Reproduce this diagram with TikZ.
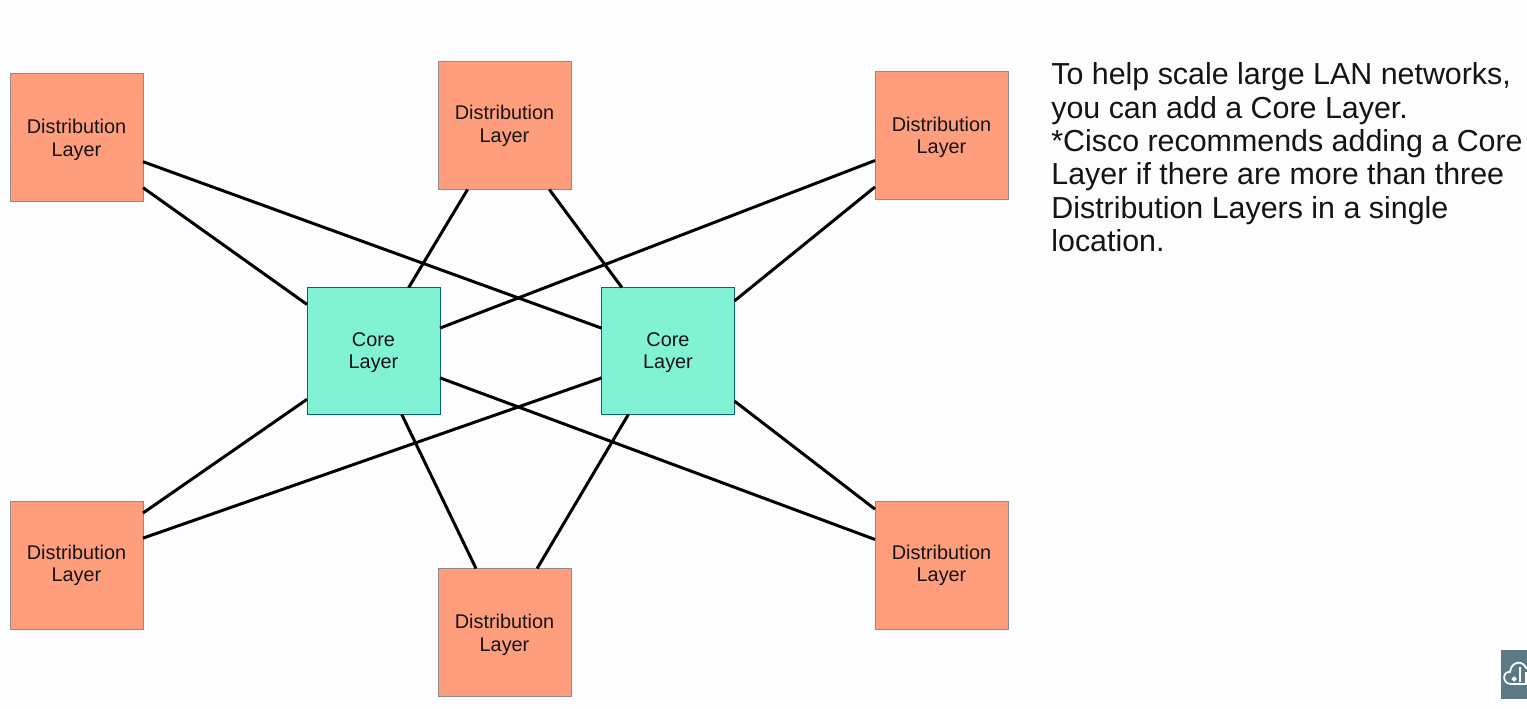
\documentclass[tikz,border=0pt]{standalone}
\usepackage{fontspec}
\setmainfont{Liberation Sans}
\definecolor{distfill}{HTML}{FF9E7C}
\definecolor{corefill}{HTML}{82F2D5}
\definecolor{pagefill}{HTML}{FDFCFE}
\definecolor{iconfill}{HTML}{5B7A85}
\tikzset{
	distbox/.style={draw=black!45, line width=0.5pt, fill=distfill, text=black!92, minimum width=2.66cm, minimum height=2.56cm, outer sep=0pt, align=center, text height=23.5pt, font=\fontsize{11.3}{12.75}\selectfont},
	distboxhigh/.style={distbox, text height=21.2pt},
	corebox/.style={draw=teal!80!black, line width=0.5pt, fill=corefill, text=black!92, minimum width=2.66cm, minimum height=2.54cm, outer sep=0pt, align=center, text height=22.4pt, font=\fontsize{11.3}{12.75}\selectfont},
	link/.style={line width=1.7pt, black}
}

\begin{document}
\begin{tikzpicture}[x=0.02cm, y=-0.02cm]
			%%%%% START %%%%%
			
			\useasboundingbox (0, 0) rectangle (1527, 709);
			\fill[pagefill] (0, 0) rectangle (1527, 709);
			
			\node[distbox] (distA) at (76.5, 137.5) {Distribution\\Layer};
			\node[distboxhigh] (distB) at (504.5, 125.5) {Distribution\\Layer};
			\node[distbox] (distC) at (941.5, 135) {Distribution\\Layer};
			\node[distboxhigh] (distD) at (76.5, 565) {Distribution\\Layer};
			\node[distbox] (distE) at (504.5, 632.5) {Distribution\\Layer};
			\node[distboxhigh] (distF) at (941.5, 565) {Distribution\\Layer};
			
			\node[corebox] (coreA) at (373.5, 351) {Core\\Layer};
			\node[corebox] (coreB) at (668, 351) {Core\\Layer};
			
			\draw[link] (distA.-20.2) -- (coreB.161.1);
			\draw[link] (distA.-37.2) -- (coreA.145.9);
			
			\draw[link] (distB.-120.8) -- (coreA.61);
			\draw[link] (distB.-55.4) -- (coreB.126.3);
			
			\draw[link] (distC.-159.4) -- (coreA.19.1);
			\draw[link] (distC.-142) -- (coreB.37.3);
			
			\draw[link] (distD.38) -- (coreA.-144.2);
			\draw[link] (distD.22.1) -- (coreB.-158.8);
			
			\draw[link] (distE.114.9) -- (coreA.-66.7);
			\draw[link] (distE.63.6) -- (coreB.-122);
			
			\draw[link] (distF.159.4) -- (coreA.-22.1);
			\draw[link] (distF.140.9) -- (coreB.-37.3);
			
			\node[anchor=north west, inner sep=0pt, align=left, text=black!92, font=\fontsize{17.3}{18.97}\selectfont] (note) at (1051, 62.6) {To help scale large LAN networks,\\you can add a Core Layer.\\*Cisco recommends adding a Core\\Layer if there are more than three\\Distribution Layers in a single\\location.};
			
			% icon in the corner
			\fill[iconfill] (1501, 650) rectangle (1527, 699);
			\begin{scope}
				\clip (1501, 650) rectangle (1527, 699);
				\draw[white, line width=1pt, line join=round] (1511, 684) .. controls (1502, 684) and (1502, 671) .. (1510, 672) .. controls (1511, 661) and (1523, 660) .. (1526, 668) .. controls (1530, 666) and (1533, 670) .. (1533, 674);
				\draw[white, line width=1pt] (1511, 684) -- (1527, 684);
				\draw[white, line width=1pt] (1520, 667) -- (1520, 682);
				\draw[white, line width=1pt] (1514, 679) circle (1.5);
				\draw[white, line width=1pt] (1526, 672) -- (1526, 683);
			\end{scope}
			
			%%%%% END %%%%%
		\end{tikzpicture}
\end{document}
